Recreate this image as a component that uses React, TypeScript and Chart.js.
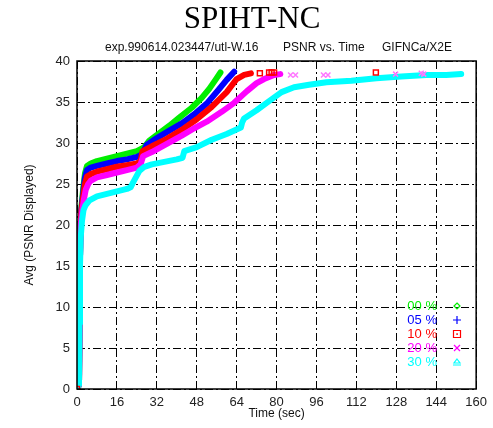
import React, { useEffect, useRef } from "react";
import { Chart, registerables } from "chart.js";

Chart.register(...registerables);

const seriesLabels = ["00 %", "05 %", "10 %", "20 %", "30 %"];
const seriesColors = ["#00ee00", "#0000ff", "#ff0000", "#ff00ff", "#00ffff"];

const t00 = [0, 0.8, 1.0, 1.2, 1.4, 1.8, 2.5, 3.2, 4.0, 5.5, 8, 12, 16, 20, 24, 27, 29, 33, 37, 41, 46, 50, 53, 55.5, 57.5];
const p00 = [0, 0.5, 8, 16, 20, 22.3, 24.5, 26.3, 27.2, 27.5, 27.8, 28.1, 28.4, 28.7, 29.0, 29.5, 30.3, 31.2, 32.1, 33.1, 34.3, 35.5, 36.6, 37.7, 38.6];

const t05 = [0, 0.8, 1.0, 1.2, 1.4, 1.8, 2.5, 3.2, 4.0, 5.5, 8, 12, 16, 20, 24, 26, 28, 32, 37, 42, 47, 52, 56.5, 60, 63];
const p05 = [0, 0.5, 8, 16, 20, 22, 24, 25.8, 26.7, 27.0, 27.2, 27.5, 27.8, 28.0, 28.3, 28.6, 29.8, 30.6, 31.5, 32.4, 33.5, 34.8, 36.4, 37.7, 38.7];

const t10 = [0, 0.8, 1.0, 1.2, 1.4, 1.8, 2.5, 3.2, 4.0, 5.5, 8, 12, 16, 20, 24, 25.5, 26.3, 30, 36, 42, 48, 54, 60, 64, 67, 69.7];
const p10 = [0, 0.5, 8, 16, 20, 21.8, 23.5, 25.0, 25.9, 26.2, 26.5, 26.8, 27.1, 27.3, 27.5, 27.8, 29.0, 29.6, 30.5, 31.6, 32.9, 34.4, 36.2, 37.8, 38.3, 38.5];

const t20 = [0, 0.8, 1.0, 1.2, 1.5, 2.0, 2.7, 3.5, 4.5, 5.5, 8, 12, 16, 20, 24, 25.5, 26.5, 30, 36, 42, 47, 52, 58, 63, 68, 72, 75, 79, 81.5];
const p20 = [0, 0.5, 8, 16, 20, 21.5, 23, 24.3, 25.0, 25.4, 25.8, 26.1, 26.4, 26.7, 27.0, 27.4, 28.4, 28.9, 29.9, 30.9, 31.8, 32.6, 33.8, 34.9, 36.3, 37.3, 37.8, 38.3, 38.4];

const t30 = [0, 0.8, 1.0, 1.2, 1.5, 2.0, 2.6, 3.4, 5, 8, 12, 16, 20, 21.5, 22.5, 25, 27, 30, 35, 40, 42.3, 43, 48, 54, 60, 65.7, 66.2, 67, 72, 77, 82, 87, 93, 100, 110, 120, 130, 140, 148, 154];
const p30 = [0, 0.5, 8, 15, 18.5, 20.5, 21.8, 22.4, 23.0, 23.5, 23.8, 24.1, 24.4, 24.6, 25.2, 26.6, 27.1, 27.4, 27.7, 28.0, 28.2, 29.0, 29.5, 30.4, 31.1, 31.9, 32.5, 33.0, 34.0, 35.1, 36.2, 36.8, 37.1, 37.4, 37.6, 37.9, 38.1, 38.3, 38.3, 38.4];

const redSquareT = [0, 73.3, 77, 78, 79, 119.8];
const redSquareP = [0, 38.5, 38.6, 38.6, 38.6, 38.6];

const magentaCrossT = [85.6, 87.6, 98.8, 100.6, 127.7, 138.0, 139.0];
const magentaCrossP = [38.3, 38.3, 38.3, 38.3, 38.4, 38.5, 38.4];

const xMin = 0, xMax = 160, xStep = 16;
const yMin = 0, yMax = 40, yStep = 5;

const titleText = "SPIHT-NC";
const subtitleParts = ["exp.990614.023447/utl-W.16", "PSNR vs. Time", "GIFNCa/X2E"];
const xTitle = "Time (sec)";
const yTitle = "Avg (PSNR Displayed)";

const SANS = '"Liberation Sans", Arial, sans-serif';

function pts(t: number[], p: number[]) {
  return t.map((x, i) => ({ x, y: p[i] }));
}

const overlay = {
  id: "overlay",
  afterDraw(chart: any) {
    const { ctx, chartArea: a } = chart;
    ctx.save();
    // frame
    ctx.strokeStyle = "#000";
    ctx.lineWidth = 1.5;
    ctx.setLineDash([]);
    ctx.strokeRect(a.left, a.top, a.right - a.left, a.bottom - a.top);

    // title
    ctx.fillStyle = "#000";
    ctx.textAlign = "center";
    ctx.textBaseline = "alphabetic";
    ctx.font = '31px "Liberation Serif", "Times New Roman", serif';
    ctx.fillText(titleText, 252, 28);

    // subtitle
    ctx.font = "12px " + SANS;
    ctx.textAlign = "left";
    ctx.fillStyle = "#111";
    const subX = [105, 283, 382];
    subtitleParts.forEach((s, i) => ctx.fillText(s, subX[i], 51));

    // axis titles
    ctx.textAlign = "center";
    ctx.textBaseline = "middle";
    ctx.fillText(xTitle, (a.left + a.right) / 2, 414);
    ctx.save();
    ctx.translate(30, (a.top + a.bottom) / 2);
    ctx.rotate(-Math.PI / 2);
    ctx.fillText(yTitle, 0, 0);
    ctx.restore();

    // legend
    ctx.font = "13px " + SANS;
    ctx.textAlign = "right";
    ctx.textBaseline = "middle";
    const mx = 457;
    seriesLabels.forEach((lab, i) => {
      const y = 306 + i * 14;
      ctx.fillStyle = seriesColors[i];
      ctx.fillText(lab, 437, y);
      ctx.strokeStyle = seriesColors[i];
      ctx.lineWidth = 1.2;
      ctx.beginPath();
      if (i === 0) {
        ctx.moveTo(mx, y - 3); ctx.lineTo(mx + 3, y); ctx.lineTo(mx, y + 3); ctx.lineTo(mx - 3, y); ctx.closePath();
      } else if (i === 1) {
        ctx.moveTo(mx - 4, y); ctx.lineTo(mx + 4, y); ctx.moveTo(mx, y - 4); ctx.lineTo(mx, y + 4);
      } else if (i === 2) {
        ctx.rect(mx - 3.5, y - 3.5, 7, 7);
        ctx.fillRect(mx - 0.7, y - 0.7, 1.6, 1.6);
      } else if (i === 3) {
        ctx.moveTo(mx - 3, y - 3); ctx.lineTo(mx + 3, y + 3); ctx.moveTo(mx + 3, y - 3); ctx.lineTo(mx - 3, y + 3);
      } else {
        ctx.moveTo(mx, y - 3); ctx.lineTo(mx + 3, y + 1); ctx.lineTo(mx - 3, y + 1); ctx.closePath();
        ctx.moveTo(mx - 4, y + 3); ctx.lineTo(mx + 4, y + 3);
      }
      ctx.stroke();
    });
    ctx.restore();
  },
};

export default function App() {
  const ref = useRef<HTMLCanvasElement>(null);
  useEffect(() => {
    const canvas = ref.current!;
    const seriesT = [t00, t05, t10, t20, t30];
    const seriesP = [p00, p05, p10, p20, p30];
    const lineSets = seriesT.map((t, i) => ({
      label: seriesLabels[i],
      data: pts(t, seriesP[i]),
      showLine: true,
      borderColor: seriesColors[i],
      backgroundColor: seriesColors[i],
      borderWidth: 6,
      borderJoinStyle: "round",
      borderCapStyle: "round",
      pointRadius: 0,
      tension: 0,
      order: 5 - i,
    }));
    const chart = new Chart(canvas, {
      type: "scatter",
      data: {
        datasets: [
          ...lineSets,
          {
            label: "10 % pts",
            data: pts(redSquareT, redSquareP),
            showLine: false,
            pointStyle: "rect",
            pointRadius: 3.5,
            borderColor: "#ff0000",
            backgroundColor: "rgba(0,0,0,0)",
            borderWidth: 1.5,
            order: 0,
          },
          {
            label: "20 % pts",
            data: pts(magentaCrossT, magentaCrossP),
            showLine: false,
            pointStyle: "crossRot",
            pointRadius: 3.5,
            borderColor: "#ff77ff",
            backgroundColor: "#ff77ff",
            borderWidth: 1.5,
            order: 0,
          },
        ] as any,
      },
      options: {
        animation: false,
        responsive: false,
        devicePixelRatio: 1,
        layout: { padding: { top: 61, right: 11, left: 0, bottom: 0 } },
        plugins: { legend: { display: false }, tooltip: { enabled: false }, title: { display: false } },
        scales: {
          x: {
            type: "linear",
            min: xMin,
            max: xMax,
            ticks: { stepSize: xStep, padding: 6, color: "#222", font: { size: 13, family: SANS } },
            grid: { color: "#000", lineWidth: 1, drawTicks: false },
            border: { display: false, dash: [8, 3, 2, 3] },
            afterFit: (s: any) => { s.height = 39; },
          },
          y: {
            type: "linear",
            min: yMin,
            max: yMax,
            ticks: { stepSize: yStep, padding: 7, color: "#222", font: { size: 13, family: SANS } },
            grid: { color: "#000", lineWidth: 1, drawTicks: false },
            border: { display: false, dash: [8, 3, 2, 3] },
            afterFit: (s: any) => { s.width = 77; },
          },
        },
      } as any,
      plugins: [overlay],
    });
    return () => chart.destroy();
  }, []);
  return (
    <div style={{ position: "absolute", left: 0, top: 0, width: 493, height: 428, background: "#fff" }}>
      <canvas ref={ref} width={493} height={428} style={{ width: 493, height: 428, display: "block" }} />
    </div>
  );
}
